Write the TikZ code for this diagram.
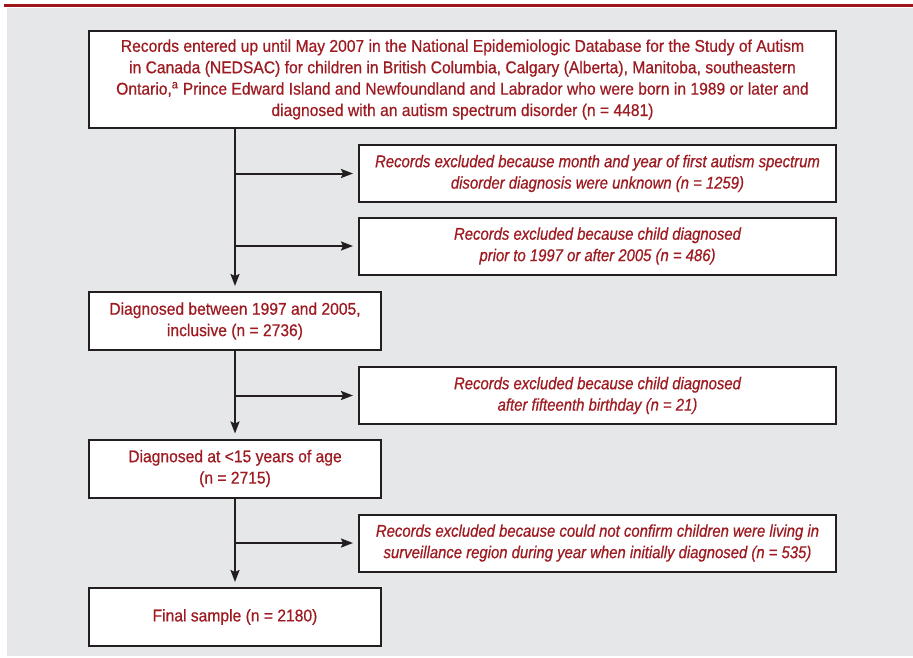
\documentclass[tikz,border=0pt]{standalone}
\usepackage{fontspec}
\setmainfont{Liberation Sans}[FakeStretch=0.92,FakeBold=0.6]
\newfontfamily\exfont{Liberation Sans}[FakeStretch=0.875,FakeBold=0.6]
\usetikzlibrary{arrows.meta}
\definecolor{bgrey}{HTML}{E6E7E8}
\definecolor{dred}{HTML}{9E1B22}
\definecolor{lred}{HTML}{A0151A}
\definecolor{ink}{HTML}{231F20}
\tikzset{
  box/.style={draw=ink, line width=2pt, fill=white, text=dred, align=center, inner sep=0pt,
     font=\fontsize{17}{21.4}\selectfont},
  mainbox/.style={box, minimum width=292pt, minimum height=58pt},
  exbox/.style={box, minimum width=477pt, minimum height=57pt, font=\fontsize{17}{21.4}\selectfont\exfont\itshape},
  arr/.style={draw=ink, line width=2pt, -{Stealth[length=12pt,width=9pt,inset=2pt]}, shorten >=5pt},
}
\begin{document}
\begin{tikzpicture}[x=1pt,y=-1pt]
\useasboundingbox (0,0) rectangle (913,657);
\fill[bgrey] (7,7.5) rectangle (913,656);
\fill[lred] (4,4) rectangle (913,7);
\node[box, minimum width=747pt, minimum height=97pt] (b1) at (462.5,79.5)
  {Records entered up until May 2007 in the National Epidemiologic Database for the Study of Autism\\
   in Canada (NEDSAC) for children in British Columbia, Calgary (Alberta), Manitoba, southeastern\\
   Ontario,\textsuperscript{a} Prince Edward Island and Newfoundland and Labrador who were born in 1989 or later and\\
   diagnosed with an autism spectrum disorder (n = 4481)};
\node[exbox] (e1) at (597.5,173.5)
  {Records excluded because month and year of first autism spectrum\\disorder diagnosis were unknown (n = 1259)};
\node[exbox] (e2) at (597.5,246)
  {Records excluded because child diagnosed\\prior to 1997 or after 2005 (n = 486)};
\node[mainbox] (b2) at (235,321) {Diagnosed between 1997 and 2005,\\inclusive (n = 2736)};
\node[exbox] (e3) at (597.5,395.5)
  {Records excluded because child diagnosed\\after fifteenth birthday (n = 21)};
\node[mainbox] (b3) at (235,468.5) {Diagnosed at <15 years of age\\(n = 2715)};
\node[exbox] (e4) at (597.5,543)
  {Records excluded because could not confirm children were living in\\surveillance region during year when initially diagnosed (n = 535)};
\node[mainbox] (b4) at (235,617) {Final sample (n = 2180)};
\coordinate (t1) at (b1.south -| b2.north);
\draw[arr] (t1) -- (b2.north);
\draw[arr] (t1 |- e1.west) -- (e1.west);
\draw[arr] (t1 |- e2.west) -- (e2.west);
\draw[arr] (b2.south) -- (b3.north);
\draw[arr] (b2.south |- e3.west) -- (e3.west);
\draw[arr] (b3.south) -- (b4.north);
\draw[arr] (b3.south |- e4.west) -- (e4.west);
\end{tikzpicture}
\end{document}
